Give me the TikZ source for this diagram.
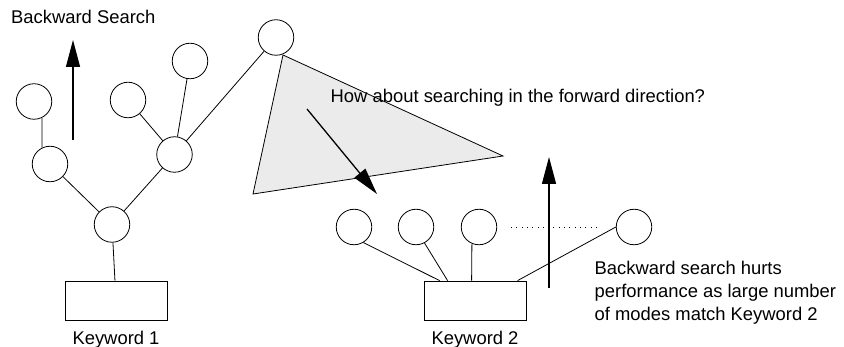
\documentclass[tikz,border=0pt]{standalone}
\usepackage{fontspec}
\setmainfont{Liberation Sans}
\usetikzlibrary{arrows.meta,calc}
\begin{document}
\begin{tikzpicture}[x=1pt,y=-1pt,
  vtx/.style={circle,draw,line width=0.8pt,minimum size=35.5pt,inner sep=0pt},
  kbox/.style={rectangle,draw,line width=0.8pt,minimum width=102pt,minimum height=39pt,inner sep=0pt},
  edge/.style={line width=0.8pt},
  bigarrow/.style={line width=1.3pt,-{Triangle[length=27pt,width=14pt]}},
  dotline/.style={line width=0.8pt,dash pattern=on 0.8pt off 4.5pt},
  lbl/.style={inner sep=0pt,font=\fontsize{18.4}{22.6}\selectfont}]
\useasboundingbox (0,0) rectangle (844,347);
% shaded triangle
\coordinate (t1) at (283,55);
\coordinate (t2) at (503,156);
\coordinate (t3) at (253,194);
\draw[edge,fill=gray!16] (t1) -- (t2) -- (t3) -- cycle;
% left tree
\node[vtx] (A) at (34,101.5) {};
\node[vtx] (B) at (50,164) {};
\node[vtx] (C) at (112,224.5) {};
\node[vtx] (D) at (174.5,154.5) {};
\node[vtx] (E) at (128,100) {};
\node[vtx] (F) at (190,61) {};
\node[vtx] (G) at (276,37.5) {};
\node[kbox] (K1) at (116,300.5) {};
\draw[edge] (A.-64) -- (B.116);
\draw[edge] (B) -- (C);
\draw[edge] (C) -- (D);
\draw[edge] (D) -- (E);
\draw[edge] (D) -- (F);
\draw[edge] (D) -- (G);
\draw[edge] (C) -- (K1);
% right group
\node[vtx] (H1) at (354,227) {};
\node[vtx] (H2) at (416,227) {};
\node[vtx] (H3) at (479,227) {};
\node[vtx] (H4) at (634,227) {};
\node[kbox] (K2) at (475,300.5) {};
\draw[edge] (H1.-59) -- ($(K2.north west)+(16,0)$);
\draw[edge] (H2.-62) -- ($(K2.north west)+(24,0)$);
\draw[edge] (H3.-113) -- ($(K2.north west)+(48,0)$);
\draw[edge] (H4.west) -- ($(K2.north west)+(94,0)$);
\coordinate (d1) at (511,227);
\coordinate (d2) at (600,227);
\draw[dotline] (d1) -- (d2);
% arrows
\coordinate (a1s) at (73,140);
\coordinate (a1e) at (73,40);
\draw[bigarrow] (a1s) -- (a1e);
\coordinate (a2s) at (307,109);
\coordinate (a2e) at (377,194);
\draw[bigarrow] (a2s) -- (a2e);
\coordinate (a3s) at (549,288);
\coordinate (a3e) at (549,157);
\draw[bigarrow] (a3s) -- (a3e);
% labels
\node[lbl,anchor=base west] (tb) at (11,24) {Backward Search};
\node[lbl,anchor=base west] (tf) at (330.5,102.5) {How about searching in the forward direction?};
\node[lbl,anchor=base] (k1l) at (116,344.5) {Keyword 1};
\node[lbl,anchor=base] (k2l) at (475,344.5) {Keyword 2};
\node[lbl,anchor=north west,align=left] (tr) at (594.5,261.4) {Backward search hurts\\performance as large number\\of modes match Keyword 2};
\end{tikzpicture}
\end{document}
